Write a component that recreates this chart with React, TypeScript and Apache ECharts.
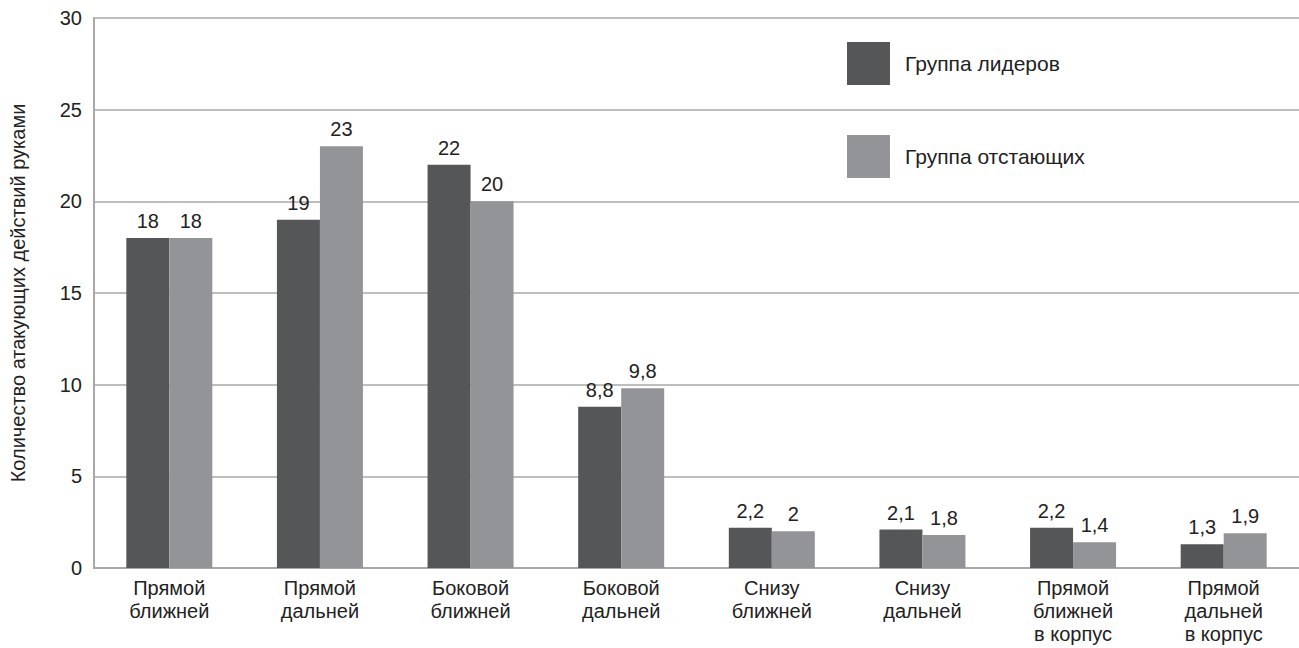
import React, { useEffect, useRef } from "react";
import * as echarts from "echarts";

const categories = [
  "Прямой\nближней",
  "Прямой\nдальней",
  "Боковой\nближней",
  "Боковой\nдальней",
  "Снизу\nближней",
  "Снизу\nдальней",
  "Прямой\nближней\nв корпус",
  "Прямой\nдальней\nв корпус",
];
const leaders = [18, 19, 22, 8.8, 2.2, 2.1, 2.2, 1.3];
const laggards = [18, 23, 20, 9.8, 2, 1.8, 1.4, 1.9];
const seriesNames = ["Группа лидеров", "Группа отстающих"];
const yAxisName = "Количество атакующих действий руками";

const FONT = "Liberation Sans, Arial, sans-serif";

export default function App() {
  const ref = useRef<HTMLDivElement>(null);
  useEffect(() => {
    if (!ref.current) return;
    const chart = echarts.init(ref.current, undefined, { renderer: "svg" });
    const labelFmt = (p: any) => String(p.value).replace(".", ",");
    const lbl = { show: true, position: "top", fontSize: 20, color: "#222", distance: 7, formatter: labelFmt };
    chart.setOption({
      animation: false,
      textStyle: { fontFamily: FONT },
      grid: { left: 88, right: 0, top: 18, bottom: 80, containLabel: false },
      legend: {
        orient: "vertical",
        left: 847,
        top: 42,
        itemWidth: 43,
        itemHeight: 43,
        itemGap: 50,
        padding: 0,
        icon: "rect",
        textStyle: { fontSize: 21, color: "#222", fontFamily: FONT, padding: [0, 0, 0, 10] },
        data: seriesNames,
      },
      xAxis: {
        type: "category",
        data: categories,
        axisLine: { show: true, lineStyle: { color: "#a8a8a8", width: 2 } },
        axisTick: { show: false },
        axisLabel: { fontSize: 20, color: "#222", lineHeight: 23, margin: 8, interval: 0 },
      },
      yAxis: {
        type: "value",
        min: 0,
        max: 30,
        interval: 5,
        name: yAxisName,
        nameLocation: "middle",
        nameGap: 66,
        nameTextStyle: { fontSize: 20, color: "#222" },
        axisLine: { show: true, lineStyle: { color: "#a8a8a8", width: 2 } },
        axisTick: { show: false },
        axisLabel: { fontSize: 20, color: "#222", margin: 12 },
        splitLine: { lineStyle: { color: "#a8a8a8", width: 1.5 } },
      },
      series: [
        {
          name: seriesNames[0],
          type: "bar",
          data: leaders,
          barWidth: 43,
          barGap: "0%",
          itemStyle: { color: "#555658" },
          label: lbl,
        },
        {
          name: seriesNames[1],
          type: "bar",
          data: laggards,
          barWidth: 43,
          barGap: "0%",
          itemStyle: { color: "#939497" },
          label: lbl,
        },
      ],
    });
    return () => chart.dispose();
  }, []);
  return (
    <div
      ref={ref}
      style={{ position: "fixed", left: 0, top: 0, width: 1299, height: 648, background: "#fff" }}
    />
  );
}
